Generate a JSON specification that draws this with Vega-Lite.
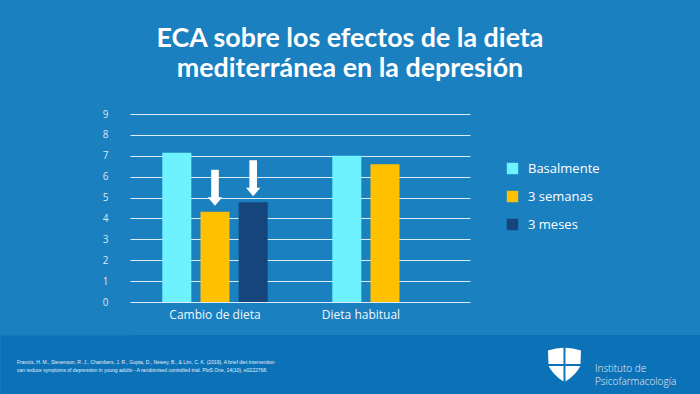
{
  "$schema": "https://vega.github.io/schema/vega-lite/v6.json",
  "background": "#1a80c0",
  "padding": {"top": 26, "left": 0, "right": 0, "bottom": 0},
  "spacing": 0,
  "bounds": "full",
  "config": {
    "view": {"stroke": null},
    "font": "Open Sans"
  },
  "title": {
    "text": ["ECA sobre los efectos de la dieta", "mediterránea en la depresión"],
    "font": "Lato",
    "fontSize": 26.8,
    "fontWeight": "bold",
    "lineHeight": 30,
    "color": "#ffffff",
    "anchor": "middle",
    "frame": "bounds",
    "offset": 26
  },
  "datasets": {
    "bars": [
      {"group": "Cambio de dieta", "series": "Basalmente", "value": 7.15},
      {"group": "Cambio de dieta", "series": "3 semanas", "value": 4.32},
      {"group": "Cambio de dieta", "series": "3 meses", "value": 4.78},
      {"group": "Dieta habitual", "series": "Basalmente", "value": 7.0},
      {"group": "Dieta habitual", "series": "3 semanas", "value": 6.6}
    ]
  },
  "vconcat": [
    {
      "width": 340,
      "height": 188,
      "data": {"name": "bars"},
      "encoding": {
        "x": {
          "field": "group", "type": "nominal", "sort": ["Cambio de dieta", "Dieta habitual"],
          "scale": {"paddingInner": 0.38, "paddingOuter": 0.19},
          "axis": {
            "title": null, "labelAngle": 0, "domain": false, "ticks": false,
            "labelPadding": 7, "labelFontSize": 12, "labelColor": "#f2f7fb",
            "labelOffset": {"condition": {"test": "datum.value === 'Dieta habitual'", "value": -24}, "value": 0},
            "minExtent": 33, "maxExtent": 33
          }
        },
        "xOffset": {
          "field": "series", "type": "nominal", "sort": ["Basalmente", "3 semanas", "3 meses"],
          "scale": {"paddingInner": 0.24, "paddingOuter": 0}
        },
        "y": {
          "field": "value", "type": "quantitative",
          "scale": {"domain": [0, 9], "nice": false},
          "axis": {
            "title": null, "domain": false, "ticks": false, "values": [0,1,2,3,4,5,6,7,8,9],
            "labelPadding": 22, "labelFontSize": 10, "labelColor": "#dbe8f3",
            "gridColor": "#ffffff", "gridOpacity": 0.85, "gridWidth": 1,
            "minExtent": 130, "maxExtent": 130
          }
        }
      },
      "layer": [
        {
          "mark": {"type": "bar"},
          "encoding": {
            "color": {
              "field": "series", "type": "nominal",
              "scale": {"domain": ["Basalmente", "3 semanas", "3 meses"], "range": ["#6ff2ff", "#ffc000", "#15457b"]},
              "legend": {
                "title": null, "orient": "none", "legendX": 376, "legendY": 48,
                "symbolType": "square", "symbolSize": 130, "symbolStrokeWidth": 0,
                "labelFontSize": 13, "labelColor": "#ffffff", "labelOffset": 9,
                "rowPadding": 14
              }
            }
          }
        },
        {
          "transform": [{"filter": "datum.group === 'Cambio de dieta' && datum.series !== 'Basalmente'"}],
          "mark": {
            "type": "point", "filled": true, "fill": "#ffffff", "opacity": 1, "size": 400,
            "shape": "M-0.38,-4.2 L0.38,-4.2 L0.38,-1.45 L0.72,-1.45 L0,-0.6 L-0.72,-1.45 L-0.38,-1.45 Z"
          }
        }
      ]
    },
    {
      "width": 570,
      "height": 60,
      "view": {"fill": "#0b72b7", "stroke": null},
      "data": {"values": [{}]},
      "layer": [
        {
          "mark": {"type": "point", "opacity": 0},
          "encoding": {
            "y": {
              "datum": 0, "type": "quantitative",
              "scale": {"domain": [0, 1]},
              "axis": {
                "title": null, "labels": false, "ticks": false, "grid": false,
                "domain": true, "domainColor": "#0b72b7", "domainWidth": 260, "domainCap": "butt",
                "minExtent": 130, "maxExtent": 130
              }
            }
          }
        },
        {
          "mark": {
            "type": "text", "align": "left", "baseline": "middle", "dx": -398, "dy": -3,
            "font": "Liberation Sans", "fontSize": 5.0, "lineHeight": 8, "color": "#e6eef6",
            "text": ["Francis, H. M., Stevenson, R. J., Chambers, J. R., Gupta, D., Newey, B., & Lim, C. K. (2019). A brief diet intervention",
                     "can reduce symptoms of depression in young adults - A randomised controlled trial. PloS One, 14(10), e0222768."]
          }
        },
        {
          "mark": {
            "type": "point", "filled": true, "fill": "#ffffff", "opacity": 1, "size": 1089,
            "shape": "M8.06,-0.88 Q8.56,-1.02 9.0,-1.04 L9.0,-0.06 L8.09,-0.06 Z M10.06,-0.88 Q9.56,-1.02 9.12,-1.04 L9.12,-0.06 L10.03,-0.06 Z M8.1,0.06 L9.0,0.06 L9.0,1.0 Q8.36,0.6 8.1,0.06 Z M10.02,0.06 L9.12,0.06 L9.12,1.0 Q9.76,0.6 10.02,0.06 Z"
          }
        },
        {
          "mark": {
            "type": "text", "align": "left", "baseline": "middle", "dx": 180, "dy": 4,
            "font": "Open Sans", "fontWeight": 300, "fontSize": 10, "lineHeight": 12.5, "color": "#e6eef6",
            "text": ["Instituto de", "Psicofarmacología"]
          }
        }
      ]
    }
  ]
}
